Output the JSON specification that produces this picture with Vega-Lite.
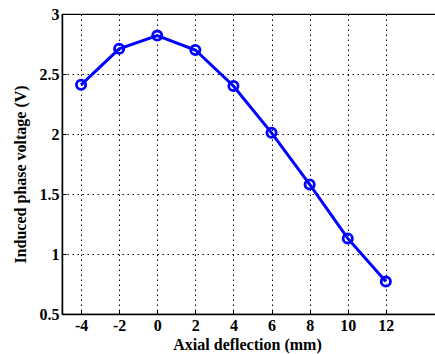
{
  "$schema": "https://vega.github.io/schema/vega-lite/v6.json",
  "autosize": "none",
  "padding": {"left": 62, "top": 14, "right": 0, "bottom": 40},
  "width": 381,
  "height": 300,
  "background": "white",
  "config": {
    "view": {"stroke": "black", "strokeWidth": 1.2},
    "font": "Liberation Serif",
    "axis": {
      "labelColor": "black",
      "titleColor": "black",
      "domainColor": "black",
      "domainWidth": 1.5,
      "gridColor": "black",
      "gridDash": [1.5, 3.5],
      "gridWidth": 1,
      "gridOpacity": 1,
      "ticks": true,
      "tickSize": -4,
      "tickColor": "black"
    }
  },
  "data": {
    "values": [
      {"deflection": -4, "voltage": 2.41},
      {"deflection": -2, "voltage": 2.71},
      {"deflection": 0, "voltage": 2.82},
      {"deflection": 2, "voltage": 2.70},
      {"deflection": 4, "voltage": 2.40},
      {"deflection": 6, "voltage": 2.01},
      {"deflection": 8, "voltage": 1.58},
      {"deflection": 10, "voltage": 1.13},
      {"deflection": 12, "voltage": 0.77}
    ]
  },
  "encoding": {
    "x": {
      "field": "deflection",
      "type": "quantitative",
      "scale": {"domain": [-5, 15], "nice": false, "zero": false},
      "axis": {
        "values": [-4, -2, 0, 2, 4, 6, 8, 10, 12],
        "labelExpr": "'' + datum.value",
        "labelFont": "Liberation Serif",
        "labelFontWeight": "bold",
        "labelFontSize": 16,
        "titleFont": "Liberation Serif",
        "titleFontWeight": "bold",
        "titleFontSize": 16,
        "title": "Axial deflection (mm)",
        "labelPadding": 7,
        "titlePadding": 3,
        "titleX": 185,
        "titleAnchor": "middle"
      }
    },
    "y": {
      "field": "voltage",
      "type": "quantitative",
      "scale": {"domain": [0.5, 3], "nice": false, "zero": false},
      "axis": {
        "values": [0.5, 1, 1.5, 2, 2.5, 3],
        "labelExpr": "'' + datum.value",
        "labelFont": "Liberation Serif",
        "labelFontWeight": "bold",
        "labelFontSize": 16,
        "titleFont": "Liberation Serif",
        "titleFontWeight": "bold",
        "titleFontSize": 16,
        "title": "Induced phase voltage (V)",
        "labelPadding": 7,
        "titleX": -34,
        "titleY": 160,
        "titleAnchor": "middle"
      }
    }
  },
  "layer": [
    {"mark": {"type": "line", "color": "#0000ff", "strokeWidth": 3}},
    {"mark": {"type": "point", "shape": "circle", "filled": false, "color": "#0000ff", "strokeWidth": 2.8, "size": 85, "opacity": 1}}
  ]
}
